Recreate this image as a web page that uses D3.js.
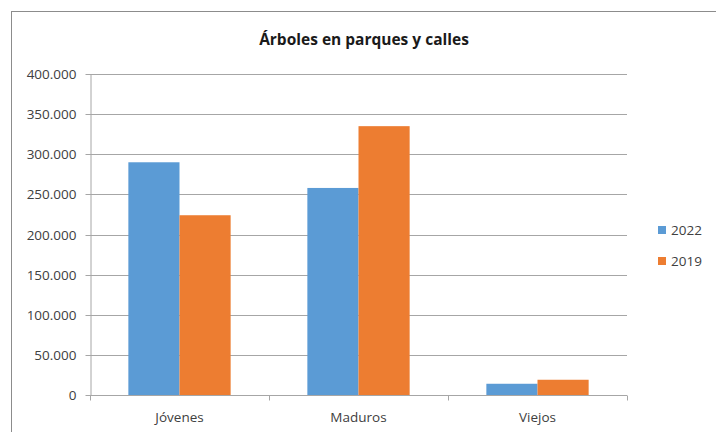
<!DOCTYPE html>
<html>
<head>
<meta charset="utf-8">
<script src="https://cdn.jsdelivr.net/npm/d3@7"></script>
<style>
  body { margin: 0; background: #fff; }
  text { font-family: "Open Sans", "Noto Sans", sans-serif; fill: #404040; }
</style>
</head>
<body>
<svg id="chart" width="716" height="432"></svg>
<script>
const categories = ["Jóvenes", "Maduros", "Viejos"];
const seriesNames = ["2022", "2019"];
const values2022 = [290000, 258000, 14000];
const values2019 = [224000, 335000, 19000];
const yTicks = [0, 50000, 100000, 150000, 200000, 250000, 300000, 350000, 400000];
const colors = ["#5B9BD5", "#ED7D31"];

const svg = d3.select("#chart");
const margin = {top: 74, right: 89, bottom: 37, left: 90};
const width = 716 - margin.left - margin.right,
      height = 432 - margin.top - margin.bottom;

// chart border
svg.append("rect")
  .attr("x", 11.5).attr("y", 11.5)
  .attr("width", 716).attr("height", 432)
  .attr("fill", "none").attr("stroke", "#8c8c8c");

svg.append("text")
  .attr("x", 364).attr("y", 45)
  .attr("text-anchor", "middle")
  .style("font-size", "15.5px").style("font-weight", "bold")
  .style("fill", "#1a1a1a")
  .text("Árboles en parques y calles");

const g = svg.append("g").attr("transform", `translate(${margin.left},${margin.top})`);

const x = d3.scaleBand().domain(categories).range([0, width]).paddingInner(0).paddingOuter(0);
const x1 = d3.scaleBand().domain(seriesNames).range([0, x.bandwidth()]).paddingOuter(0.75).paddingInner(0);
const y = d3.scaleLinear().domain([0, 400000]).range([height, 0]);

const locale = d3.formatLocale({decimal: ",", thousands: ".", grouping: [3], currency: ["", "€"]});
const fmt = locale.format(",d");

// gridlines
g.append("g")
  .selectAll("line")
  .data(yTicks.filter(d => d > 0))
  .enter()
  .append("line")
  .attr("x1", 0).attr("x2", width)
  .attr("y1", d => Math.round(y(d)) + 0.5).attr("y2", d => Math.round(y(d)) + 0.5)
  .attr("stroke", "#a6a6a6");

// y axis
const yAxis = g.append("g")
  .attr("transform", "translate(0.5,0)")
  .call(d3.axisLeft(y).tickValues(yTicks).tickFormat(fmt).tickSize(5).tickSizeOuter(0));
yAxis.select(".domain").attr("stroke", "#a6a6a6");
yAxis.selectAll(".tick line").attr("stroke", "#a6a6a6");
yAxis.selectAll(".tick").attr("transform", d => `translate(0,${Math.round(y(d)) + 0.5})`);
yAxis.selectAll("text").style("font-size", "13.5px").attr("x", -14).style("fill", "#404040");

// bars
const data = categories.map((c, i) => ({cat: c, vals: [values2022[i], values2019[i]]}));
g.append("g")
  .selectAll("g")
  .data(data)
  .enter()
  .append("g")
  .attr("transform", d => `translate(${x(d.cat)},0)`)
  .selectAll("rect")
  .data(d => d.vals.map((v, j) => ({key: seriesNames[j], value: v, color: colors[j]})))
  .enter()
  .append("rect")
  .attr("x", d => x1(d.key))
  .attr("y", d => y(d.value))
  .attr("width", x1.bandwidth())
  .attr("height", d => height - y(d.value))
  .attr("fill", d => d.color);

// x axis
const xAxis = g.append("g").attr("transform", `translate(0,${Math.round(height) + 0.5})`);
xAxis.append("line").attr("x1", 0).attr("x2", width).attr("stroke", "#a6a6a6");
const bounds = [0].concat(categories.map(c => x(c) + x.bandwidth()));
xAxis.selectAll(".tk")
  .data(bounds)
  .enter()
  .append("line")
  .attr("x1", d => Math.round(d) + 0.5).attr("x2", d => Math.round(d) + 0.5)
  .attr("y1", 0).attr("y2", 5)
  .attr("stroke", "#a6a6a6");
xAxis.selectAll(".lbl")
  .data(categories)
  .enter()
  .append("text")
  .attr("x", d => x(d) + x.bandwidth() / 2)
  .attr("y", 26)
  .attr("text-anchor", "middle")
  .style("font-size", "13.5px")
  .text(d => d);

// legend
const legend = svg.append("g").attr("transform", "translate(658,226)");
seriesNames.forEach((s, i) => {
  const row = legend.append("g").attr("transform", `translate(0,${i * 31})`);
  row.append("rect").attr("width", 8).attr("height", 8).attr("fill", colors[i]);
  row.append("text").attr("x", 13).attr("y", 9).style("font-size", "13.5px").text(s);
});
</script>
</body>
</html>
